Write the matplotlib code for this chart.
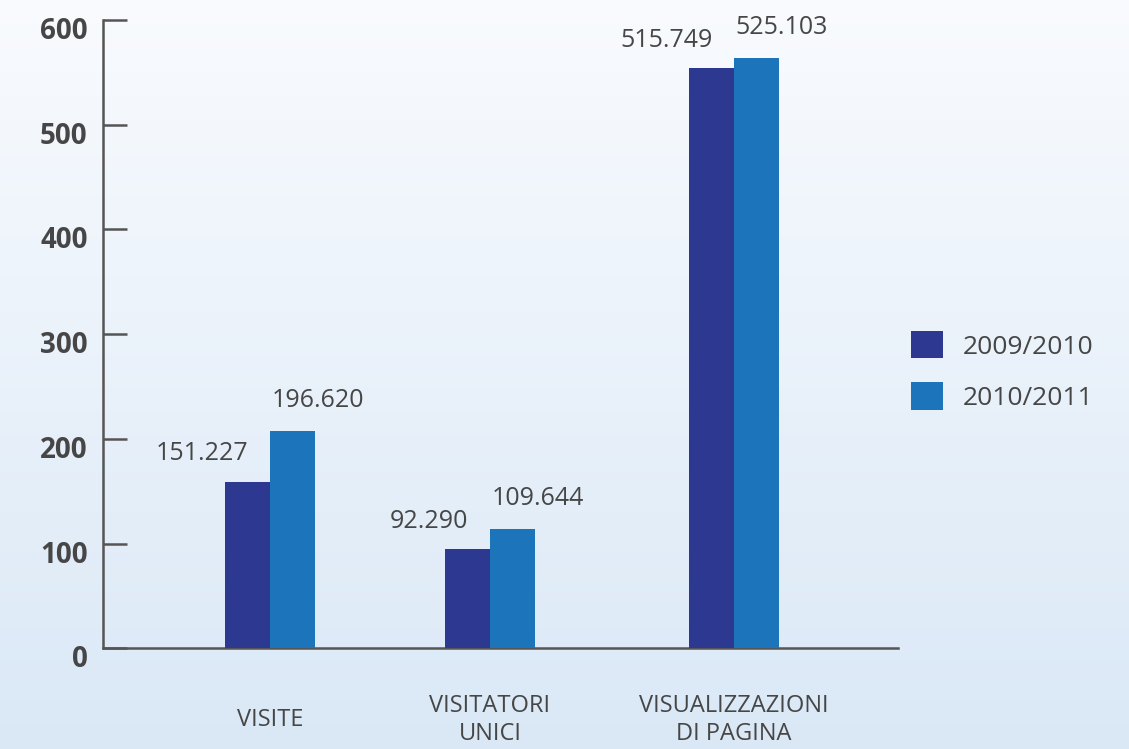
import numpy as np
import matplotlib
matplotlib.use('Agg')
import matplotlib.pyplot as plt
import matplotlib.transforms as mtransforms

# dati
categorie = ['VISITE', 'VISITATORI\nUNICI', 'VISUALIZZAZIONI\nDI PAGINA']
serie = ['2009/2010', '2010/2011']
valori_0910 = [159.1, 94.8, 554.1]
valori_1011 = [207.5, 113.9, 563.7]
etichette_0910 = ['151.227', '92.290', '515.749']
etichette_1011 = ['196.620', '109.644', '525.103']
yticks = [0, 100, 200, 300, 400, 500, 600]

colori = ['#2d3990', '#1c74bb']
grigio = '#464646'
plt.rcParams['font.family'] = ['Open Sans', 'DejaVu Sans']

fig = plt.figure(figsize=(11.29, 7.49), dpi=100)

# sfondo sfumato
bg = fig.add_axes([0, 0, 1, 1], zorder=-10)
grad = np.linspace(0, 1, 256).reshape(-1, 1)
top = np.array([0.976, 0.984, 0.996])
bot = np.array([0.855, 0.910, 0.965])
img = top + (bot - top) * grad[:, :, None]
bg.imshow(img, aspect='auto', extent=[0, 1, 0, 1])
bg.axis('off')

ax = fig.add_axes([103 / 1129, 1 - 648.3 / 749, 795 / 1129, 628.3 / 749])
ax.patch.set_alpha(0)

centri = np.array([270, 490, 734])
w = 45
b1 = ax.bar(centri - w / 2, valori_0910, w, color=colori[0], label=serie[0], zorder=1)
b2 = ax.bar(centri + w / 2, valori_1011, w, color=colori[1], label=serie[1], zorder=1)

for rect, t in zip(b1, etichette_0910):
    ax.annotate(t, (rect.get_x() + rect.get_width() / 2, rect.get_height()),
                xytext=(1, 28), textcoords='offset pixels', ha='right', va='center',
                fontsize=18, color=grigio)
for rect, t in zip(b2, etichette_1011):
    ax.annotate(t, (rect.get_x() + rect.get_width() / 2, rect.get_height()),
                xytext=(-21, 31), textcoords='offset pixels', ha='left', va='center',
                fontsize=18, color=grigio)

ax.set_xlim(103, 898)
ax.set_ylim(0, 600)
ax.set_yticks(yticks)
ax.set_yticklabels([str(v) for v in yticks], fontsize=20, fontweight='bold', color=grigio)
ax.set_xticks([])
ax.tick_params(axis='y', direction='in', length=17, width=1.8, color='#555555', pad=11)
off = mtransforms.ScaledTranslation(0, -8 / 100, fig.dpi_scale_trans)
for lab in ax.get_yticklabels():
    lab.set_transform(lab.get_transform() + off)

for s in ['top', 'right']:
    ax.spines[s].set_visible(False)
for s in ['left', 'bottom']:
    ax.spines[s].set_color('#555555')
    ax.spines[s].set_linewidth(1.8)
    ax.spines[s].set_zorder(0)

trans = mtransforms.blended_transform_factory(ax.transData, ax.transAxes)
for c, nome in zip(centri, categorie):
    ax.text(c, -(720 - 648.3) / 628.3, nome, transform=trans, ha='center', va='center',
            fontsize=17, color=grigio, linespacing=1.2)

fig.legend(loc='upper left', bbox_to_anchor=(911 / 1129, 1 - 331 / 749), frameon=False,
           fontsize=19, handlelength=1.21, handleheight=1.21, handletextpad=0.76,
           labelspacing=0.87, borderpad=0, borderaxespad=0, labelcolor=grigio)

fig.savefig('out.png', dpi=100)
